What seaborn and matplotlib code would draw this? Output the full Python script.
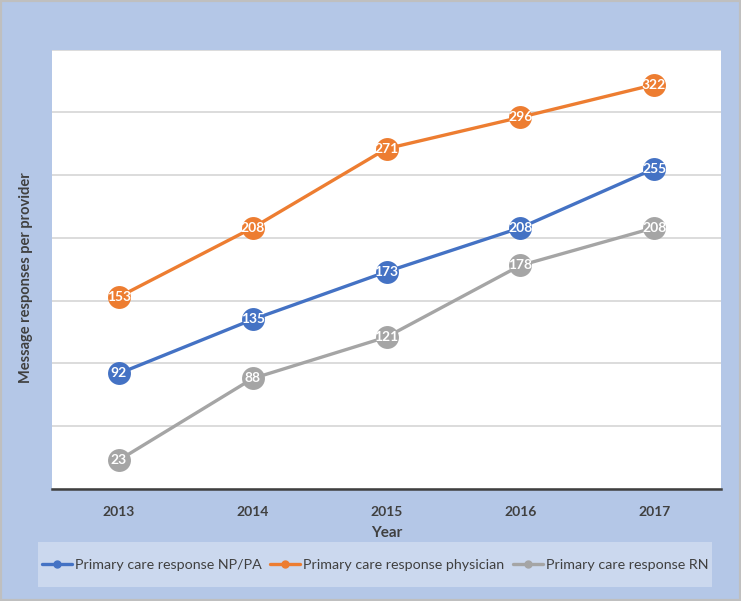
import numpy as np
import pandas as pd
import seaborn as sns
import matplotlib.pyplot as plt
from matplotlib.lines import Line2D
from matplotlib.patches import Rectangle

years = [2013, 2014, 2015, 2016, 2017]
np_pa = [92, 135, 173, 208, 255]
physician = [153, 208, 271, 296, 322]
rn = [23, 88, 121, 178, 208]
series_names = ["Primary care response NP/PA",
                "Primary care response physician",
                "Primary care response RN"]
colors = ["#4472C4", "#ED7D31", "#A5A5A5"]


def main():
    sns.set_theme(style="white")
    plt.rcParams['font.family'] = ['Lato', 'DejaVu Sans']

    df = pd.DataFrame({
        "Year": years * 3,
        "Value": np_pa + physician + rn,
        "Series": [series_names[0]] * 5 + [series_names[1]] * 5 + [series_names[2]] * 5,
    })

    fig = plt.figure(figsize=(7.41, 6.01), dpi=100)
    fig.patch.set_facecolor("#B4C7E7")
    ax = fig.add_axes([52 / 741, 1 - 489 / 601, 669 / 741, 439.5 / 601])
    ax.set_facecolor("white")

    sns.lineplot(data=df, x="Year", y="Value", hue="Series", palette=colors,
                 marker="o", markersize=16.5, markeredgewidth=0, linewidth=2.4,
                 legend=False, ax=ax, zorder=3)

    # data labels inside the markers
    for vals in [np_pa, physician, rn]:
        for x, v in zip(years, vals):
            ax.text(x, v, str(v), ha="center", va="center", color="white",
                    fontsize=10, fontweight="bold", zorder=5)

    ax.set_xlim(2012.5, 2017.5)
    ax.set_ylim(0, 350)
    ax.set_yticks(np.arange(0, 351, 50))
    ax.set_yticklabels([])
    ax.tick_params(axis="y", length=0)
    ax.set_xticks(years)
    ax.set_xticklabels([str(y) for y in years], fontsize=10, fontweight="bold", color="#404040")
    ax.tick_params(axis="x", length=0, pad=12)
    ax.grid(axis="y", color="#D9D9D9", linewidth=1.3)
    ax.set_axisbelow(True)
    for s in ["left", "right", "top"]:
        ax.spines[s].set_visible(False)
    ax.spines["bottom"].set_color("#404040")
    ax.spines["bottom"].set_linewidth(1.8)

    ax.set_xlabel("Year", fontsize=11, fontweight="bold", color="#404040", labelpad=6)
    ax.set_ylabel("Message responses per provider", fontsize=10.5, fontweight="bold", color="#404040")
    ax.yaxis.set_label_coords(-19 / 669, 0.48)

    # legend box
    fig.patches.append(Rectangle((38 / 741, 1 - 587 / 601), 674 / 741, 45 / 601,
                                 transform=fig.transFigure, facecolor="#CBD8EE",
                                 edgecolor="none", zorder=0))
    handles = [Line2D([0], [0], color=c, lw=2.4, marker="o", markersize=5) for c in colors]
    fig.legend(handles, series_names, loc="center", bbox_to_anchor=(375 / 741, 1 - 565 / 601),
               ncol=3, frameon=False, fontsize=10.3, handlelength=2.1, handletextpad=0.2,
               columnspacing=0.6, labelcolor="#404040")

    # outer border
    fig.patches.append(Rectangle((0, 0), 1, 1, transform=fig.transFigure, fill=False,
                                 edgecolor="#BFBFBF", linewidth=3))

    fig.savefig("out.png", dpi=100, facecolor=fig.get_facecolor())


main()
